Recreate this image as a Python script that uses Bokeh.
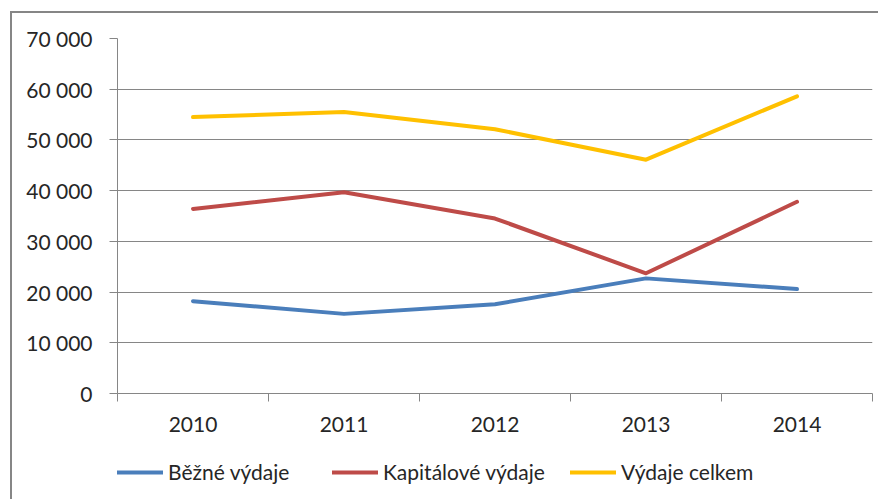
from bokeh.plotting import figure
from bokeh.layouts import column
from bokeh.models import Range1d, FixedTicker, Legend, LegendItem
from bokeh.embed import file_html
from bokeh.resources import INLINE

years = ["2010", "2011", "2012", "2013", "2014"]
bezne = [18200, 15700, 17600, 22700, 20600]
kapitalove = [36400, 39700, 34500, 23700, 37800]
celkem = [54500, 55500, 52100, 46100, 58600]
series_names = ["Běžné výdaje", "Kapitálové výdaje", "Výdaje celkem"]
series_colors = ["#4A7EBB", "#BE4B48", "#FFC000"]
y_ticks = [0, 10000, 20000, 30000, 40000, 50000, 60000, 70000]
y_tick_labels = ["0", "10 000", "20 000", "30 000", "40 000", "50 000", "60 000", "70 000"]

FONT = "Lato"
TXT = "#262626"
GREY = "#868686"

xs = [i + 1 for i in range(len(years))]
series = [bezne, kapitalove, celkem]

p = figure(width=866, height=427, output_backend="svg", toolbar_location=None,
           x_range=Range1d(0.5, len(years) + 0.5), y_range=Range1d(y_ticks[0], y_ticks[-1]),
           min_border_left=105, min_border_right=6, min_border_top=25, min_border_bottom=47)
p.outline_line_color = None
p.background_fill_color = "white"
p.border_fill_color = "white"

# axes
p.xaxis.ticker = FixedTicker(ticks=xs, minor_ticks=[x - 0.5 for x in xs] + [xs[-1] + 0.5])
p.xaxis.major_label_overrides = {x: y for x, y in zip(xs, years)}
p.xaxis.major_tick_out = 0
p.xaxis.major_tick_in = 0
p.xaxis.minor_tick_out = 8
p.xaxis.minor_tick_in = 0
p.xaxis.minor_tick_line_color = GREY
p.xaxis.axis_line_color = GREY
p.xaxis.major_label_standoff = 15

p.yaxis.ticker = FixedTicker(ticks=y_ticks)
p.yaxis.major_label_overrides = {t: l for t, l in zip(y_ticks, y_tick_labels)}
p.yaxis.major_tick_out = 8
p.yaxis.major_tick_in = 0
p.yaxis.minor_tick_out = 0
p.yaxis.minor_tick_in = 0
p.yaxis.major_tick_line_color = GREY
p.yaxis.axis_line_color = GREY
p.yaxis.major_label_standoff = 17

for ax in (p.xaxis[0], p.yaxis[0]):
    ax.major_label_text_font = FONT
    ax.major_label_text_font_size = "21px"
    ax.major_label_text_color = TXT

p.xgrid.grid_line_color = None
p.ygrid.ticker = FixedTicker(ticks=y_ticks)
p.ygrid.grid_line_color = GREY
p.ygrid.grid_line_width = 1

for vals, c in zip(series, series_colors):
    p.line(xs, vals, line_color=c, line_width=4, line_cap="round", line_join="round")

# legend strip below the chart (its frame is aligned with the chart frame)
pl = figure(width=866, height=59, output_backend="svg", toolbar_location=None,
            x_range=Range1d(0, 1), y_range=Range1d(0, 1),
            min_border_left=105, min_border_right=6, min_border_top=0, min_border_bottom=0)
pl.axis.visible = False
pl.grid.visible = False
pl.outline_line_color = None
pl.background_fill_color = "white"
pl.border_fill_color = "white"

legend_x = [0, 215, 453]
for name, vals, c, lx in zip(series_names, series, series_colors, legend_x):
    # same data, outside this strip's visible range: only its legend entry shows
    r = pl.line(xs, vals, line_color=c, line_width=4, line_cap="round")
    lg = Legend(items=[LegendItem(label=name, renderers=[r])], location=(lx, 15),
                orientation="horizontal", padding=0, margin=0, spacing=0,
                glyph_width=46, glyph_height=20, label_standoff=5, label_height=20,
                border_line_color=None, background_fill_alpha=0,
                label_text_font=FONT, label_text_font_size="21px", label_text_color=TXT)
    pl.add_layout(lg, "center")

layout = column(p, pl, spacing=0, margin=(11, 0, 0, 10),
                styles={"border-top": "2px solid #868686", "border-left": "2px solid #868686"})

open("out.html", "w").write(file_html(layout, INLINE))
